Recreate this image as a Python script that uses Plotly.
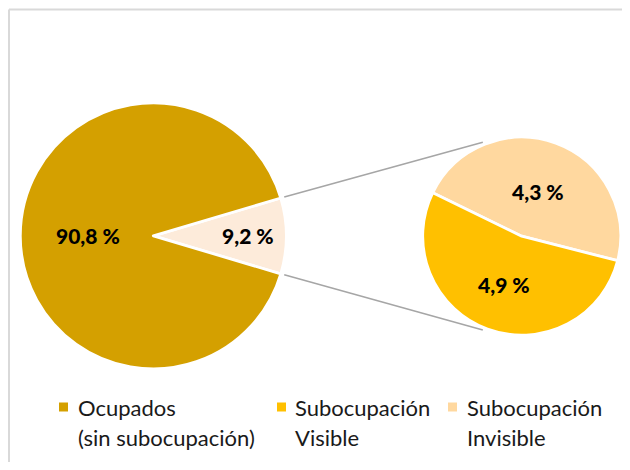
import math
import plotly.graph_objects as go

# ---------------- data ----------------
main_labels = ["Ocupados (sin subocupación)", "Subocupación"]
main_values = [90.8, 9.2]          # left pie
sub_labels = ["Subocupación Invisible", "Subocupación Visible"]
sub_values = [4.3, 4.9]            # right pie (breakdown of 9.2 %)
legend_lines = [["Ocupados", "(sin subocupación)"],
                ["Subocupación", "Visible"],
                ["Subocupación", "Invisible"]]

# ---------------- style ----------------
W, H = 614, 454        # figure size (page adds an 8px body margin)
OFF = 8
C_OCUP = "#D4A000"
C_SPLIT = "#FDEBDA"
C_VIS = "#FFC000"
C_INV = "#FFD89F"
FONT = "Lato"

# geometry (screen pixels)
L_CX, L_CY, L_R = 153.3, 235.9, 133.0
R_CX, R_CY, R_R = 521.7, 236.2, 99.0
STROKE = 2.8
SUB_FIRST_MID = 69.8   # math angle (deg) of bisector of first slice of right pie


def dom(cx, cy, r):
    cx -= OFF
    cy -= OFF
    return dict(x=[(cx - r) / W, (cx + r) / W], y=[(H - (cy + r)) / H, (H - (cy - r)) / H])


def px(x, y):
    return (x - OFF) / W, 1 - (y - OFF) / H


def fmt(v):
    return f"{v:.1f}".replace(".", ",") + " %"


# left pie: the split slice first, centred on 3 o'clock
left_vals = [main_values[1], main_values[0]]
left_cols = [C_SPLIT, C_OCUP]
split_span = 360 * main_values[1] / sum(main_values)
left_rot = 90 - split_span / 2

sub_total = sum(sub_values)
first_span = 360 * sub_values[0] / sub_total
right_rot = (90 - SUB_FIRST_MID) - first_span / 2

fig = go.Figure()
fig.add_trace(go.Pie(
    values=left_vals, labels=[main_labels[1], main_labels[0]], sort=False,
    direction="clockwise", rotation=left_rot, domain=dom(L_CX, L_CY, L_R),
    marker=dict(colors=left_cols, line=dict(color="white", width=STROKE)),
    textinfo="none", showlegend=False, hoverinfo="label+value"))
fig.add_trace(go.Pie(
    values=sub_values, labels=sub_labels, sort=False,
    direction="clockwise", rotation=right_rot, domain=dom(R_CX, R_CY, R_R),
    marker=dict(colors=[C_INV, C_VIS], line=dict(color="white", width=STROKE)),
    textinfo="none", showlegend=False, hoverinfo="label+value"))

ann = []
shapes = []

# data labels
r_vis_l = L_R - STROKE / 2
r_vis_r = R_R - STROKE / 2


def lab_at(cx, cy, r, ang, frac, text):
    a = math.radians(ang)
    x = cx + frac * r * math.cos(a)
    y = cy - frac * r * math.sin(a)
    xp, yp = px(x, y)
    ann.append(dict(x=xp, y=yp, xref="paper", yref="paper", text=text,
                    showarrow=False,
                    font=dict(family=FONT, size=21, color="black", weight=900),
                    xanchor="center", yanchor="middle"))


lab_at(L_CX, L_CY, r_vis_l, 180, 0.50, fmt(main_values[0]))
lab_at(L_CX, L_CY, r_vis_l, 0, 0.72, fmt(main_values[1]))
lab_at(R_CX, R_CY, r_vis_r, SUB_FIRST_MID, 0.49, fmt(sub_values[0]))
lab_at(R_CX, R_CY, r_vis_r, SUB_FIRST_MID - first_span / 2 - (360 - first_span) / 2, 0.53,
       fmt(sub_values[1]))

# legend (square key + two text lines per entry)
leg_cols = [C_OCUP, C_VIS, C_INV]
leg_key_x = [63.5, 281.5, 452.5]
leg_text_x = [76, 293, 465]
LEG_Y1, LEG_DY, KEY = 407, 30, 9
for lines, col, kx, tx in zip(legend_lines, leg_cols, leg_key_x, leg_text_x):
    x0, y0 = px(kx - KEY / 2, LEG_Y1 - KEY / 2)
    x1, y1 = px(kx + KEY / 2, LEG_Y1 + KEY / 2)
    shapes.append(dict(type="rect", xref="paper", yref="paper", x0=x0, y0=y0, x1=x1, y1=y1,
                       line=dict(width=0), fillcolor=col))
    for i, t in enumerate(lines):
        xp, yp = px(tx, LEG_Y1 + i * LEG_DY)
        ann.append(dict(x=xp, y=yp, xref="paper", yref="paper", text=t, showarrow=False,
                        xanchor="left", yanchor="middle", align="left",
                        font=dict(family=FONT, size=22, color="#1A1A1A")))

# connector lines
half = split_span / 2
END_ANG = 112.5
for s in (1, -1):
    a0 = math.radians(s * half)
    x0 = L_CX + (r_vis_l + 5) * math.cos(a0)
    y0 = L_CY - (r_vis_l + 5) * math.sin(a0)
    a1 = math.radians(s * END_ANG)
    x1 = R_CX + (r_vis_r + 4) * math.cos(a1)
    y1 = R_CY - (r_vis_r + 4) * math.sin(a1)
    X0, Y0 = px(x0, y0)
    X1, Y1 = px(x1, y1)
    shapes.append(dict(type="line", xref="paper", yref="paper", x0=X0, y0=Y0, x1=X1, y1=Y1,
                       line=dict(color="#A6A6A6", width=1.6)))

# chart frame (top and left edges; the rest lies outside the picture)
fx0, fy0 = px(9, 9.5)
fx1, _ = px(W + OFF + 40, 0)
_, fy1 = px(0, H + OFF + 40)
shapes.append(dict(type="line", xref="paper", yref="paper", x0=fx0, y0=fy0, x1=fx1, y1=fy0,
                   line=dict(color="#D9D9D9", width=2)))
shapes.append(dict(type="line", xref="paper", yref="paper", x0=fx0, y0=fy0, x1=fx0, y1=fy1,
                   line=dict(color="#D9D9D9", width=2)))

fig.update_layout(
    width=W, height=H, margin=dict(l=0, r=0, t=0, b=0),
    paper_bgcolor="white", plot_bgcolor="white",
    annotations=ann, shapes=shapes, showlegend=False)

fig.write_html("out.html")
